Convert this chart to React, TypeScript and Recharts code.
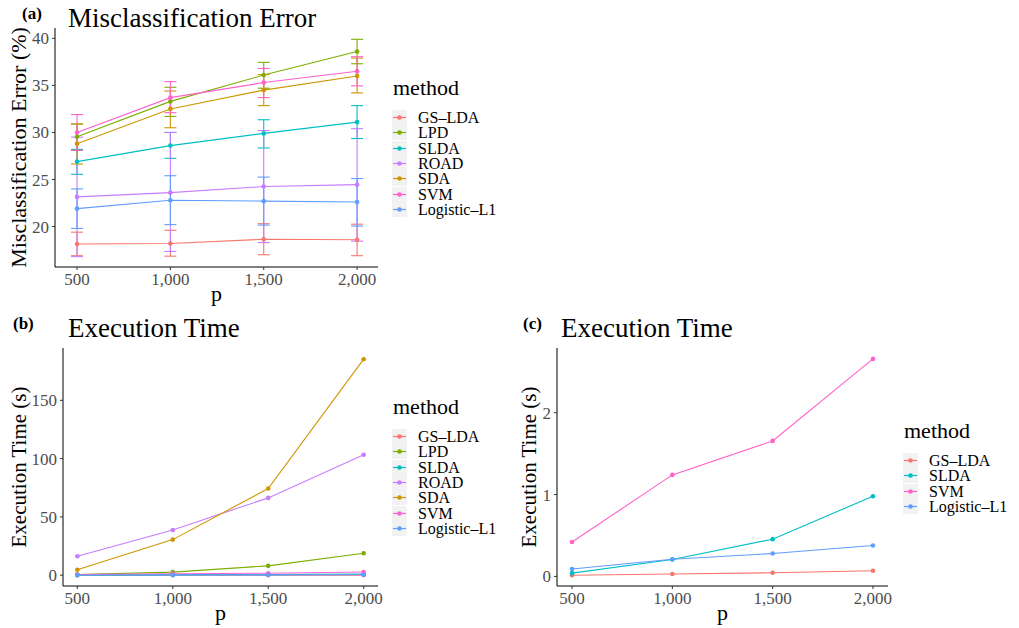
import React from 'react';
import { LineChart, Line, XAxis, YAxis, ErrorBar, Legend } from 'recharts';

// ---------- data ----------
const pValues = [500, 1000, 1500, 2000];
const xTicks = [500, 1000, 1500, 2000];

const methodsAll = ['GS-LDA', 'LPD', 'SLDA', 'ROAD', 'SDA', 'SVM', 'Logistic-L1'];
const methodsFast = ['GS-LDA', 'SLDA', 'SVM', 'Logistic-L1'];
const methodColors: Record<string, string> = {
  'GS-LDA': '#F8766D',
  LPD: '#7CAE00',
  SLDA: '#00BFC4',
  ROAD: '#C77CFF',
  SDA: '#CD9600',
  SVM: '#FF61CC',
  'Logistic-L1': '#619CFF',
};

// Misclassification error (%) : mean, lower, upper
const errGSLDA = [18.15, 18.2, 18.65, 18.6];
const errGSLDALow = [16.9, 16.85, 17.0, 16.9];
const errGSLDAHigh = [19.4, 19.6, 20.3, 20.25];

const errLPD = [29.55, 33.3, 36.1, 38.6];
const errLPDLow = [28.1, 31.7, 34.7, 37.3];
const errLPDHigh = [30.9, 34.8, 37.45, 39.9];

const errSLDA = [26.9, 28.6, 29.9, 31.1];
const errSLDALow = [25.55, 27.25, 28.35, 29.35];
const errSLDAHigh = [28.2, 30.0, 31.35, 32.85];

const errROAD = [23.15, 23.6, 24.25, 24.45];
const errROADLow = [16.8, 17.35, 18.3, 18.45];
const errROADHigh = [29.5, 30.0, 30.2, 30.4];

const errSDA = [28.8, 32.5, 34.5, 36.0];
const errSDALow = [26.65, 30.5, 32.85, 34.2];
const errSDAHigh = [30.9, 34.4, 36.15, 37.9];

const errSVM = [30.0, 33.7, 35.3, 36.5];
const errSVMLow = [28.1, 32.1, 33.7, 34.95];
const errSVMHigh = [31.9, 35.4, 36.8, 38.05];

const errLogistic = [21.9, 22.8, 22.7, 22.6];
const errLogisticLow = [19.8, 20.2, 20.15, 20.05];
const errLogisticHigh = [24.0, 25.4, 25.25, 25.1];

// Execution time (s)
const timeGSLDA = [0.015, 0.03, 0.045, 0.07];
const timeLPD = [0.6, 2.6, 8.0, 18.8];
const timeSLDA = [0.04, 0.207, 0.455, 0.98];
const timeROAD = [16.2, 38.8, 66.3, 103.3];
const timeSDA = [4.6, 30.5, 74.3, 185.3];
const timeSVM = [0.42, 1.24, 1.655, 2.657];
const timeLogistic = [0.09, 0.21, 0.28, 0.377];

const errTicks = [20, 25, 30, 35, 40];
const timeTicksAll = [0, 50, 100, 150];
const timeTicksFast = [0, 1, 2];

// ---------- tables ----------
const errSeries: Record<string, number[][]> = {
  'GS-LDA': [errGSLDA, errGSLDALow, errGSLDAHigh],
  LPD: [errLPD, errLPDLow, errLPDHigh],
  SLDA: [errSLDA, errSLDALow, errSLDAHigh],
  ROAD: [errROAD, errROADLow, errROADHigh],
  SDA: [errSDA, errSDALow, errSDAHigh],
  SVM: [errSVM, errSVMLow, errSVMHigh],
  'Logistic-L1': [errLogistic, errLogisticLow, errLogisticHigh],
};
const timeSeries: Record<string, number[]> = {
  'GS-LDA': timeGSLDA,
  LPD: timeLPD,
  SLDA: timeSLDA,
  ROAD: timeROAD,
  SDA: timeSDA,
  SVM: timeSVM,
  'Logistic-L1': timeLogistic,
};

const errData = pValues.map((p, i) => {
  const row: any = { p };
  methodsAll.forEach((m) => {
    const [mean, lo, hi] = errSeries[m];
    row[m] = mean[i];
    row[m + '_err'] = [mean[i] - lo[i], hi[i] - mean[i]];
  });
  return row;
});
const timeData = pValues.map((p, i) => {
  const row: any = { p };
  methodsAll.forEach((m) => {
    row[m] = timeSeries[m][i];
  });
  return row;
});

// ---------- styling ----------
const FONT = 'Liberation Serif';
const tickStyle = { fill: '#4D4D4D', fontSize: 17, fontFamily: FONT };
const fmt = (v: number) => v.toLocaleString('en-US');
const display = (n: string) => n.replace('-', '\u2013');

const makeLegend = (names: string[]) => () => (
  <div style={{ fontFamily: FONT, color: '#000' }}>
    <div style={{ fontSize: 22, lineHeight: '22px', height: 22, marginBottom: 11, paddingLeft: 1 }}>method</div>
    {names.map((n) => (
      <div key={n} style={{ display: 'flex', alignItems: 'center', height: 15.4 }}>
        <svg width={15} height={15} style={{ background: '#F2F2F2', display: 'block' }}>
          <line x1={1} x2={14} y1={7.5} y2={7.5} stroke={methodColors[n]} strokeWidth={1.2} />
          <circle cx={7.5} cy={7.5} r={2.3} fill={methodColors[n]} />
        </svg>
        <span style={{ marginLeft: 11, fontSize: 16, lineHeight: '15px', whiteSpace: 'nowrap' }}>{display(n)}</span>
      </div>
    ))}
  </div>
);

const yTitle = (text: string, size: number) => (props: any) => {
  const vb = props.viewBox || {};
  const cy = vb.y + vb.height / 2;
  return (
    <text x={26} y={cy} transform={`rotate(-90, 26, ${cy})`} textAnchor="middle"
      fontFamily={FONT} fontSize={size} fill="#000">{text}</text>
  );
};
const xTitle = (props: any) => {
  const vb = props.viewBox || {};
  return (
    <text x={vb.x + vb.width / 2} y={vb.y + 34} textAnchor="middle"
      fontFamily={FONT} fontSize={22} fill="#000">p</text>
  );
};

const axisCommon = {
  tick: tickStyle,
  tickLine: { stroke: '#333333' },
  axisLine: { stroke: '#000000', strokeWidth: 1 },
  tickSize: 3,
};

export default function App() {
  return (
    <div style={{ position: 'absolute', left: 0, top: 0, width: 1019, height: 628, background: '#fff' }}>
      {/* (a) misclassification error */}
      <div style={{ position: 'absolute', left: 0, top: 0 }}>
        <LineChart width={520} height={310} data={errData}
          margin={{ top: 28, right: 142, bottom: 13, left: 0 }}>
          <XAxis dataKey="p" type="number" domain={[382, 2112]} ticks={xTicks} allowDataOverflow
            tickFormatter={fmt} height={30} tickMargin={3} {...axisCommon} label={{ content: xTitle }} />
          <YAxis type="number" domain={[15.7, 41.1]} ticks={errTicks} allowDataOverflow width={55}
            tickMargin={3} {...axisCommon} label={{ content: yTitle('Misclassification Error (%)', 22) }} />
          {methodsAll.map((m) => (
            <Line key={m} type="linear" dataKey={m} stroke={methodColors[m]} strokeWidth={1.1}
              dot={{ r: 2.3, fill: methodColors[m], stroke: 'none' }} activeDot={false}
              isAnimationActive={false}>
              <ErrorBar dataKey={m + '_err'} width={6} stroke={methodColors[m]} strokeWidth={1.1}
                direction="y" isAnimationActive={false} />
            </Line>
          ))}
          <Legend layout="vertical" align="center" verticalAlign="middle"
            wrapperStyle={{ left: 392, top: 76.6, width: 'auto' }} content={makeLegend(methodsAll)} />
        </LineChart>
      </div>

      {/* (b) execution time, all methods */}
      <div style={{ position: 'absolute', left: 0, top: 310 }}>
        <LineChart width={510} height={318} data={timeData}
          margin={{ top: 38, right: 132, bottom: 12, left: 0 }}>
          <XAxis dataKey="p" type="number" domain={[425, 2075]} ticks={xTicks} allowDataOverflow
            tickFormatter={fmt} height={30} tickMargin={3} {...axisCommon} label={{ content: xTitle }} />
          <YAxis type="number" domain={[-9.3, 194.9]} ticks={timeTicksAll} allowDataOverflow width={63}
            tickMargin={3} {...axisCommon} label={{ content: yTitle('Execution Time (s)', 21) }} />
          {methodsAll.map((m) => (
            <Line key={m} type="linear" dataKey={m} stroke={methodColors[m]} strokeWidth={1.1}
              dot={{ r: 2.3, fill: methodColors[m], stroke: 'none' }} activeDot={false}
              isAnimationActive={false} />
          ))}
          <Legend layout="vertical" align="center" verticalAlign="middle"
            wrapperStyle={{ left: 392, top: 85.6, width: 'auto' }} content={makeLegend(methodsAll)} />
        </LineChart>
      </div>

      {/* (c) execution time, fast methods */}
      <div style={{ position: 'absolute', left: 510, top: 310 }}>
        <LineChart width={509} height={318} data={timeData}
          margin={{ top: 38, right: 131, bottom: 12, left: 0 }}>
          <XAxis dataKey="p" type="number" domain={[425, 2075]} ticks={xTicks} allowDataOverflow
            tickFormatter={fmt} height={30} tickMargin={3} {...axisCommon} label={{ content: xTitle }} />
          <YAxis type="number" domain={[-0.117, 2.79]} ticks={timeTicksFast} allowDataOverflow width={47}
            tickMargin={3} {...axisCommon} label={{ content: yTitle('Execution Time (s)', 21) }} />
          {methodsFast.map((m) => (
            <Line key={m} type="linear" dataKey={m} stroke={methodColors[m]} strokeWidth={1.1}
              dot={{ r: 2.3, fill: methodColors[m], stroke: 'none' }} activeDot={false}
              isAnimationActive={false} />
          ))}
          <Legend layout="vertical" align="center" verticalAlign="middle"
            wrapperStyle={{ left: 393, top: 109.6, width: 'auto' }} content={makeLegend(methodsFast)} />
        </LineChart>
      </div>

      {/* titles and panel tags */}
      <svg width={1019} height={628} style={{ position: 'absolute', left: 0, top: 0, pointerEvents: 'none' }}>
        <g fontFamily={FONT} fill="#000">
          <text x={22} y={19} fontSize={17} fontWeight="bold">(a)</text>
          <text x={68} y={27} fontSize={27}>Misclassification Error</text>
          <text x={13} y={329} fontSize={17} fontWeight="bold">(b)</text>
          <text x={68} y={337} fontSize={27}>Execution Time</text>
          <text x={523} y={329} fontSize={17} fontWeight="bold">(c)</text>
          <text x={561} y={337} fontSize={27}>Execution Time</text>
        </g>
      </svg>
    </div>
  );
}
